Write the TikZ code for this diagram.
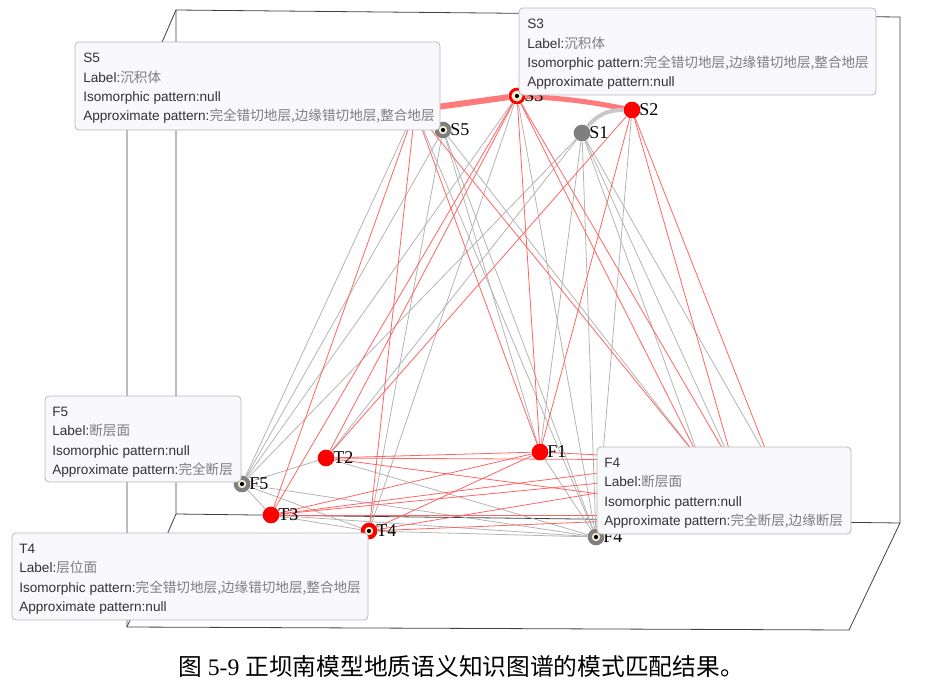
\documentclass[tikz,border=0pt]{standalone}
\usepackage{fontspec}
\setmainfont{Liberation Serif}
\newfontfamily\tipfont{Liberation Sans}
\newfontfamily\cjk{Noto Sans CJK SC}
\usetikzlibrary{calc, backgrounds}

\definecolor{NRed}{HTML}{FF0000}
\definecolor{NGray}{HTML}{7F7F7F}
\definecolor{ERed}{HTML}{FF6464}
\definecolor{EGray}{HTML}{B4B4B4}
\definecolor{TRed}{HTML}{FF7A7A}
\definecolor{TGray}{HTML}{C8C8C8}
\definecolor{Axis}{HTML}{404040}
\definecolor{TipFill}{HTML}{F8F8FD}
\definecolor{TipLine}{HTML}{B8B8B8}
\definecolor{TipText}{HTML}{333333}
\definecolor{TipCJK}{HTML}{7E7E7E}
\definecolor{Marker}{HTML}{F2EFCF}

\newcommand\zh[1]{{\cjk\color{TipCJK}#1}}
\newcommand\selmark[1]{\fill[Marker] (#1) circle (4.2); \fill[black] (#1) circle (2.1);}

\tikzset{
    vred/.style={circle, fill=NRed, minimum size=12.5pt, inner sep=0pt},
    vgray/.style={circle, fill=NGray, minimum size=12.5pt, inner sep=0pt},
    vlabel/.style={font=\fontsize{13.5}{13.5}\selectfont, inner sep=0pt, label distance=-1.1pt},
    ered/.style={ERed, line width=0.6pt},
    egray/.style={EGray, line width=0.6pt},
    axisline/.style={Axis, line width=0.6pt},
    tipbox/.style={draw=TipLine, fill=TipFill, rounded corners=3pt, line width=0.6pt},
    tiptext/.style={anchor=north west, align=left, inner sep=0pt, text=TipText,
        font=\tipfont\fontsize{10.2}{14.5}\selectfont},
}

\begin{document}
\begin{tikzpicture}[x=0.75pt, y=-0.75pt]

    \useasboundingbox (0,0) rectangle (936,689);

    % axis box corners
    \begin{scope}[name prefix=box-]
        \coordinate (1) at (176,10);
        \coordinate (2) at (900,17);
        \coordinate (3) at (900,523);
        \coordinate (4) at (176,514);
        \coordinate (5) at (127,123);
        \coordinate (6) at (127,627);
        \coordinate (7) at (849,630);
    \end{scope}

    % visible vertices
    \node[vred,  label={[vlabel]right:S3}] (S3) at (517,96) {};
    \node[vred,  label={[vlabel]right:S2}] (S2) at (632,110) {};
    \node[vgray, label={[vlabel]right:S1}] (S1) at (582,133) {};
    \node[vgray, label={[vlabel]right:S5}] (S5) at (443,130) {};
    \node[vred,  label={[vlabel]right:F1}] (F1) at (540,452) {};
    \node[vred,  label={[vlabel]right:T2}] (T2) at (326,458) {};
    \node[vgray, label={[vlabel]right:F5}] (F5) at (242,484) {};
    \node[vred,  label={[vlabel]right:T3}] (T3) at (271,515) {};
    \node[vred,  label={[vlabel]right:T4}] (T4) at (369,531) {};
    \node[vgray, label={[vlabel]right:F4}] (F4) at (596,537) {};

    % vertices hidden behind the tooltips
    \coordinate (S4) at (415,110);
    \coordinate (F2) at (700,460);
    \coordinate (F3) at (735,470);
    \coordinate (T1) at (772,466);
    \coordinate (T5) at (760,515);

    \begin{pgfonlayer}{background}
        \draw[axisline] (box-1) -- (box-2) -- (box-3) -- (box-4) -- cycle;
        \draw[axisline] (box-1) -- (box-5) -- (box-6) -- (box-7) -- (box-3);
        \draw[axisline] (box-4) -- (box-6);

        % Gray links
        \foreach \a/\b in {S5/F5, S5/T4, S5/F4, S5/F2, S5/F1, S4/F5, S4/F4,
                           S3/F5, S3/F4, S3/T4, S1/F5, S1/F4, S1/F1, S1/F2,
                           S1/F3, S1/T1, S1/T2, S2/F4, T2/F5, T2/F4, F5/T3,
                           F5/T4, F5/F4, T3/T4, T3/F4, T4/F4, F1/F4} {
            \draw[egray] (\a) -- (\b);
        }

        % Red links
        \foreach \a/\b in {S3/T2, S3/T3, S3/F1, S3/F2, S3/F3, S2/T2, S2/F1,
                           S2/F3, S2/T1, S4/T3, S4/T4, S4/F1, S4/F2, T2/F1,
                           T2/F2, T2/T5, T3/F1, T3/F2, T3/F3, T3/T5, T4/F1,
                           T4/T5, T4/F3, F1/F2} {
            \draw[ered] (\a) -- (\b);
        }

        % Thick links
        \draw[TRed, line width=4.5pt] (S4) -- (S3);
        \draw[TRed, line width=3.8pt] (S3) to[bend left=4] (S2);
        \draw[TGray, line width=3pt] (S1) to[bend left=25] (S2);
    \end{pgfonlayer}

    % selected vertices
    \fill[Marker] (S3) circle (5.5);
    \foreach \v in {S3, S5, F5, T4, F4} {
        \selmark{\v}
    }

    % Tooltips
    \draw[tipbox] (75,42) rectangle (440,130);
    \node[tiptext] (tip-S5) at (83,53) {S5\\Label:\zh{沉积体}\\Isomorphic pattern:null\\
        Approximate pattern:\zh{完全错切地层,边缘错切地层,整合地层}};

    \draw[tipbox] (519,8) rectangle (876,95);
    \node[tiptext] (tip-S3) at (527,19) {S3\\Label:\zh{沉积体}\\
        Isomorphic pattern:\zh{完全错切地层,边缘错切地层,整合地层}\\Approximate pattern:null};

    \draw[tipbox] (45,396) rectangle (241,482);
    \node[tiptext] (tip-F5) at (52,407) {F5\\Label:\zh{断层面}\\Isomorphic pattern:null\\
        Approximate pattern:\zh{完全断层}};

    \draw[tipbox] (597,447) rectangle (851,534);
    \node[tiptext] (tip-F4) at (604,458) {F4\\Label:\zh{断层面}\\Isomorphic pattern:null\\
        Approximate pattern:\zh{完全断层,边缘断层}};

    \draw[tipbox] (12,533) rectangle (368,620);
    \node[tiptext] (tip-T4) at (19,544) {T4\\Label:\zh{层位面}\\
        Isomorphic pattern:\zh{完全错切地层,边缘错切地层,整合地层}\\Approximate pattern:null};

    % caption
    \node[font=\fontsize{17.8}{17.8}\selectfont] (caption) at (461,666)
        {{\cjk 图} 5-9 {\cjk 正坝南模型地质语义知识图谱的模式匹配结果。}};

\end{tikzpicture}
\end{document}
